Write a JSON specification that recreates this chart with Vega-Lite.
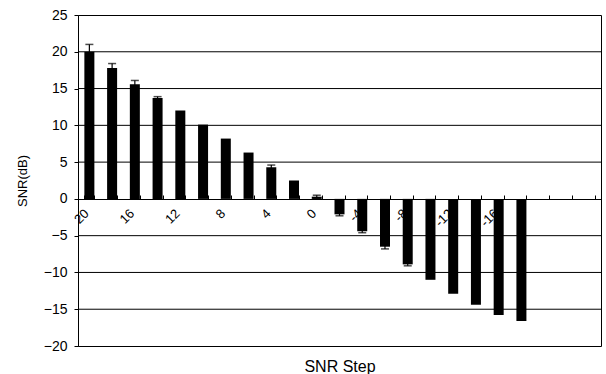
{
  "$schema": "https://vega.github.io/schema/vega-lite/v6.json",
  "autosize": {"type": "none"},
  "padding": {"left": 78, "top": 15, "right": 5, "bottom": 28},
  "width": 523,
  "height": 331,
  "background": "white",
  "config": {
    "view": {"stroke": "black", "strokeWidth": 1},
    "font": "Liberation Sans",
    "axis": {"labelColor": "black", "titleColor": "black", "labelFont": "Liberation Sans", "titleFont": "Liberation Sans", "titleFontWeight": "normal"}
  },
  "datasets": {
    "grid": [
      {"g": -15}, {"g": -10}, {"g": -5}, {"g": 5}, {"g": 10}, {"g": 15}, {"g": 20}
    ],
    "bars": [
      {"step": 20, "snr": 20.0},
      {"step": 18, "snr": 17.8},
      {"step": 16, "snr": 15.6},
      {"step": 14, "snr": 13.7},
      {"step": 12, "snr": 12.0},
      {"step": 10, "snr": 10.1},
      {"step": 8, "snr": 8.2},
      {"step": 6, "snr": 6.3},
      {"step": 4, "snr": 4.3},
      {"step": 2, "snr": 2.5},
      {"step": 0, "snr": 0.3},
      {"step": -2, "snr": -2.1},
      {"step": -4, "snr": -4.4},
      {"step": -6, "snr": -6.5},
      {"step": -8, "snr": -8.9},
      {"step": -10, "snr": -11.0},
      {"step": -12, "snr": -12.9},
      {"step": -14, "snr": -14.4},
      {"step": -16, "snr": -15.8},
      {"step": -18, "snr": -16.6}
    ],
    "errs": [
      {"step": 20, "lo": 19.0, "hi": 21.0},
      {"step": 18, "lo": 17.2, "hi": 18.4},
      {"step": 16, "lo": 15.2, "hi": 16.1},
      {"step": 14, "lo": 13.4, "hi": 13.9},
      {"step": 4, "lo": 4.0, "hi": 4.6},
      {"step": 0, "lo": 0.1, "hi": 0.5},
      {"step": -2, "lo": -2.3, "hi": -1.9},
      {"step": -4, "lo": -4.6, "hi": -4.2},
      {"step": -6, "lo": -6.8, "hi": -6.2},
      {"step": -8, "lo": -9.1, "hi": -8.7}
    ]
  },
  "resolve": {"axis": {"x": "independent", "y": "independent"}},
  "layer": [
    {
      "data": {"name": "grid"},
      "mark": {"type": "rule", "color": "black", "strokeWidth": 1},
      "encoding": {
        "y": {"field": "g", "type": "quantitative", "axis": null}
      }
    },
    {
      "data": {"name": "bars"},
      "mark": {"type": "bar", "color": "black"},
      "encoding": {
        "x": {
          "field": "step",
          "type": "ordinal",
          "scale": {
            "domain": [20, 18, 16, 14, 12, 10, 8, 6, 4, 2, 0, -2, -4, -6, -8, -10, -12, -14, -16, -18, -20, -22, -24],
            "paddingInner": 0.56,
            "paddingOuter": 0.28
          },
          "axis": {
            "orient": "bottom",
            "offset": -147,
            "domainColor": "black",
            "tickColor": "black",
            "tickSize": -4,
            "tickBand": "extent",
            "labelAngle": -45,
            "labelAlign": "right",
            "labelBaseline": "middle",
            "labelPadding": 16,
            "labelOffset": -3,
            "labelFontSize": 13,
            "labelExpr": "(datum.value % 4 == 0 && datum.value >= -16) ? datum.label : ''",
            "grid": false,
            "title": "SNR Step",
            "titleFontSize": 16,
            "titleBaseline": "alphabetic",
            "titleY": 172
          }
        },
        "y": {
          "field": "snr",
          "type": "quantitative",
          "scale": {"domain": [-20, 25], "nice": false},
          "axis": {"values": [-20, -15, -10, -5, 0, 5, 10, 15, 20, 25], "title": "SNR(dB)", "grid": false, "domainColor": "black", "tickColor": "black", "tickSize": 4, "labelFontSize": 14, "labelPadding": 7, "titleFontSize": 13, "titlePadding": 14}
        }
      }
    },
    {
      "data": {"name": "errs"},
      "mark": {"type": "rule", "color": "black", "strokeWidth": 1.2},
      "encoding": {
        "x": {"field": "step", "type": "ordinal", "axis": null},
        "y": {"field": "lo", "type": "quantitative", "axis": null},
        "y2": {"field": "hi"}
      }
    },
    {
      "data": {"name": "errs"},
      "mark": {"type": "tick", "color": "black", "size": 8, "thickness": 1.5},
      "encoding": {
        "x": {"field": "step", "type": "ordinal", "axis": null},
        "y": {"field": "hi", "type": "quantitative", "axis": null}
      }
    },
    {
      "data": {"name": "errs"},
      "mark": {"type": "tick", "color": "black", "size": 8, "thickness": 1.5},
      "encoding": {
        "x": {"field": "step", "type": "ordinal", "axis": null},
        "y": {"field": "lo", "type": "quantitative", "axis": null}
      }
    }
  ]
}
